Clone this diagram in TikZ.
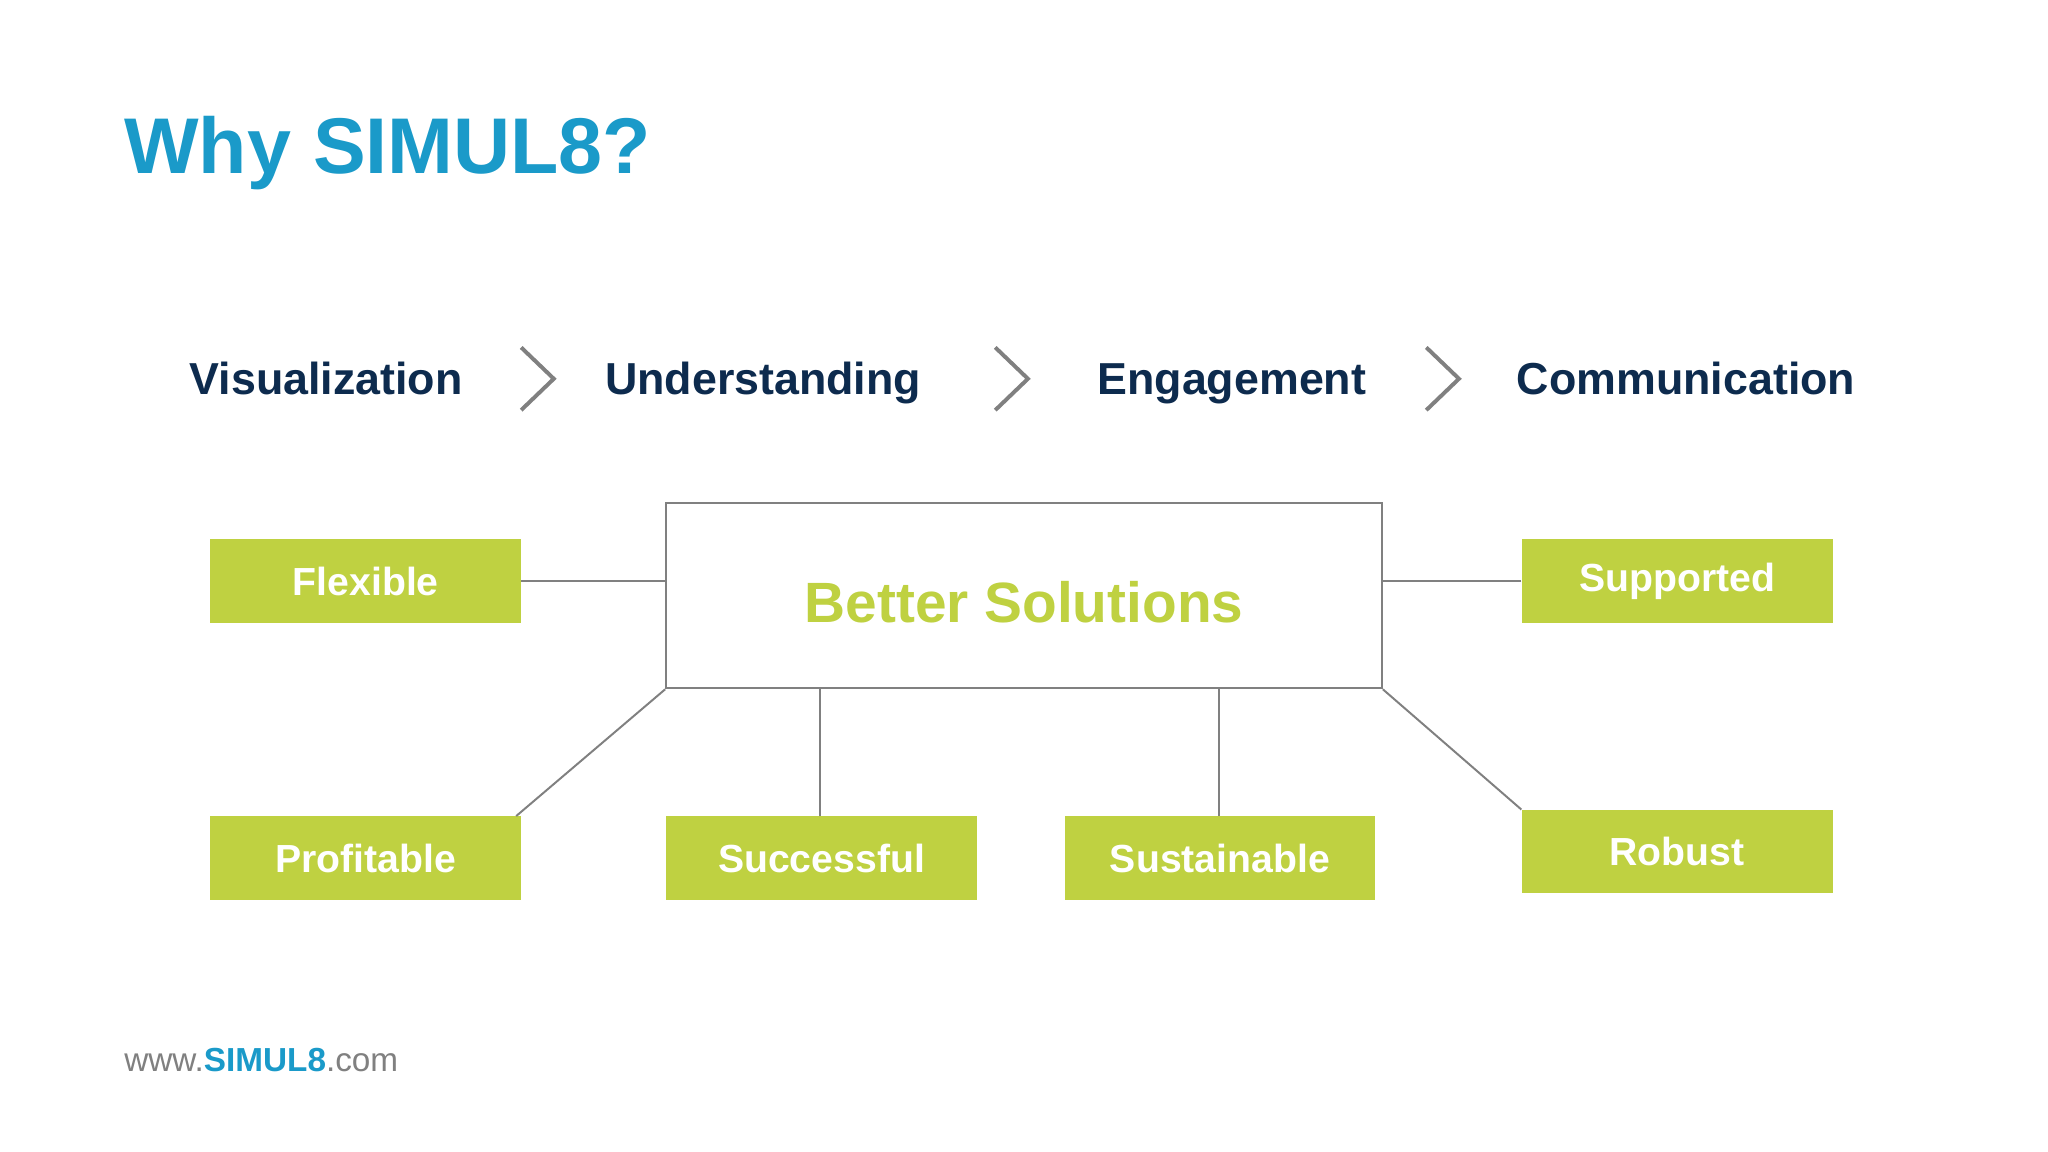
\documentclass[tikz,border=0pt]{standalone}
\usepackage{fontspec}
\setmainfont{Liberation Sans}
\definecolor{sblue}{HTML}{1A9AC9}
\definecolor{navy}{HTML}{0D2B4E}
\definecolor{sgreen}{HTML}{BFD141}
\definecolor{lgray}{HTML}{808080}
\begin{document}
\begin{tikzpicture}[x=1pt,y=-1pt,
  gbox/.style={fill=sgreen,minimum width=238pt,minimum height=64pt,inner sep=0,text=white,font=\fontsize{30}{32}\selectfont\bfseries},
  stage/.style={anchor=base west,inner sep=0,text=navy,font=\fontsize{34.3}{38}\selectfont\bfseries},
  conn/.style={draw=lgray,line width=1.5pt},
  chev/.style={draw=lgray,line width=3pt}]
\useasboundingbox[fill=white] (0,0) rectangle (1568,882);
\node[anchor=base west,inner sep=0,text=sblue,font=\fontsize{60.5}{70}\selectfont\bfseries] (title) at (95,133) {Why SIMUL8?};
\node[stage] (s1) at (145,302) {Visualization};
\node[stage] (s2) at (463,302) {Understanding};
\node[stage] (s3) at (840,302) {Engagement};
\node[stage] (s4) at (1161,302) {Communication};
\foreach \x in {399,762,1092}{\draw[chev] (\x,266) -- (\x+25,290) -- (\x,314);}
\node[draw=lgray,line width=1.5pt,minimum width=548pt,minimum height=142pt,inner sep=0] (c) at (784,456) {};
\node[text=sgreen,font=\fontsize{43.5}{46}\selectfont\bfseries,inner sep=0] (ct) at (784,461) {Better Solutions};
\node[gbox] (fl) at (280,445) {Flexible};
\node[gbox] (su) at (1284,445) {Supported};
\node[gbox] (pr) at (280,657) {Profitable};
\node[gbox] (sc) at (629,657) {Successful};
\node[gbox] (sa) at (934,657) {Sustainable};
\node[gbox] (ro) at (1284,652) {Robust};
\draw[conn] (fl.east) -- (fl.east -| c.west);
\draw[conn] (su.west) -- (su.west -| c.east);
\draw[conn] ([xshift=-4pt]pr.north east) -- (c.south west);
\draw[conn] (sc.north -| 628,0) -- (628,527);
\draw[conn] (sa.north -| 933,0) -- (933,527);
\draw[conn] (c.south east) -- (ro.north west);
\node[anchor=base west,inner sep=0,text=lgray,font=\fontsize{25.5}{28}\selectfont] (url) at (95,820) {www.\textcolor{sblue}{\bfseries SIMUL8}.com};
\end{tikzpicture}
\end{document}
